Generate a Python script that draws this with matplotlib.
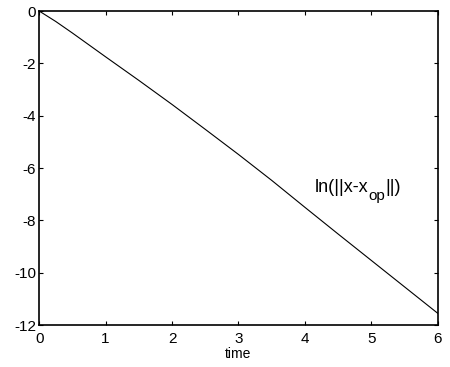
import matplotlib
matplotlib.use("Agg")
import matplotlib.pyplot as plt

# values
time = [0, 0.25, 0.5, 1.0, 1.5, 2.0, 2.5, 3.0, 3.5, 4.0, 4.5, 5.0, 5.5, 6.0]
log_err = [0, -0.40, -0.84, -1.75, -2.65, -3.57, -4.52, -5.48, -6.47, -7.50, -8.52, -9.53, -10.54, -11.55]

xticks = [0, 1, 2, 3, 4, 5, 6]
yticks = [0, -2, -4, -6, -8, -10, -12]

plt.rcParams['font.family'] = ['Liberation Sans', 'DejaVu Sans']
plt.rcParams['axes.unicode_minus'] = False

fig = plt.figure(figsize=(4.5, 3.67), dpi=100)
ax = fig.add_axes([0.087, 0.114, 0.886, 0.856])

ax.plot(time, log_err, color='black', linewidth=0.8)

ax.set_xlim(0, 6)
ax.set_ylim(-12, 0)
ax.set_xticks(xticks)
ax.set_yticks(yticks)
ax.tick_params(direction='in', top=True, right=True, labelsize=11, length=3)
ax.tick_params(axis='x', pad=5)
ax.tick_params(axis='y', pad=2)
for s in ax.spines.values():
    s.set_linewidth(1.2)

ax.set_xlabel('time', fontsize=10, labelpad=1)

# label built from three pieces so the subscript sits low like the original
t1 = ax.text(4.15, -6.75, 'ln(||x-x', fontsize=13, va='center', ha='left')
fig.canvas.draw()
bb = t1.get_window_extent().transformed(ax.transData.inverted())
t2 = ax.text(bb.x1, -7.05, 'op', fontsize=11, va='center', ha='left')
fig.canvas.draw()
bb2 = t2.get_window_extent().transformed(ax.transData.inverted())
ax.text(bb2.x1, -6.75, '||)', fontsize=13, va='center', ha='left')

fig.savefig('out.png', dpi=100)
